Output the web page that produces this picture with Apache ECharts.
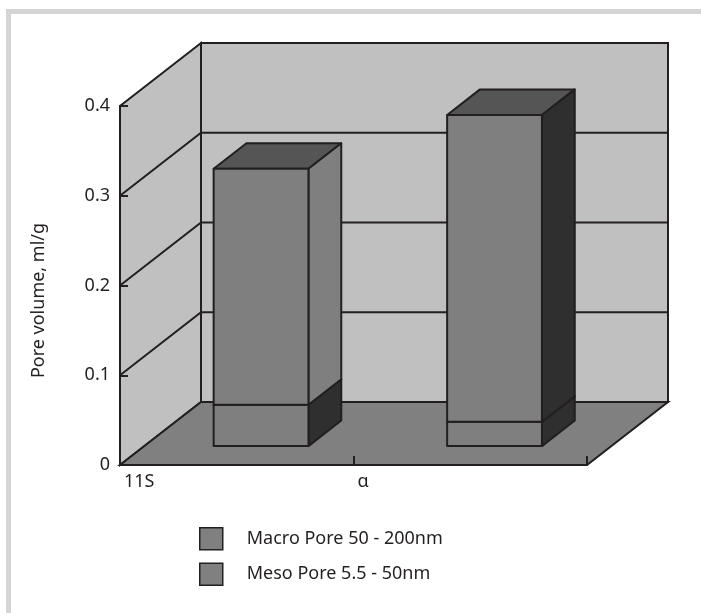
<!DOCTYPE html>
<html>
<head>
<meta charset="utf-8">
<script src="https://cdn.jsdelivr.net/npm/echarts@6/dist/echarts.min.js"></script>
<style>
html, body { margin: 0; padding: 0; background: #fff; }
#chart { width: 701px; height: 613px; }
</style>
</head>
<body>
<div id="chart"></div>
<script>
// data
var categories = ['11S', 'α'];
var mesoPore = [0.046, 0.027];   // lower part of each column
var macroPore = [0.263, 0.342];  // upper part of each column
var yTicks = [0, 0.1, 0.2, 0.3, 0.4];
var seriesNames = ['Macro Pore 50 - 200nm', 'Meso Pore 5.5 - 50nm'];

var DX = 81, DY = -63;      // depth of the 3d box in px
var BAR_W = 0.406;          // column width, part of a category band
var Z0 = 0.30, Z1 = 0.705;  // where the column sits in depth (0 front, 1 back)
var lineColor = '#231f20';
var font = 'Noto Sans';
var fs = 18;

function shift(p, f) {
	return [p[0] + DX * f, p[1] + DY * f];
}

// walls, floor and grid lines of the box
function renderBox(params, api) {
	var n = categories.length;
	var yMax = yTicks[yTicks.length - 1];
	var f00 = api.coord([0, 0]);
	var f0m = api.coord([0, yMax]);
	var fn0 = api.coord([n, 0]);
	var b00 = shift(f00, 1), b0m = shift(f0m, 1), bn0 = shift(fn0, 1);
	var bnm = shift(api.coord([n, yMax]), 1);
	var children = [];
	children.push({ type: 'polygon', shape: { points: [b00, bn0, bnm, b0m] },
		style: { fill: '#c0c0c0', stroke: lineColor, lineWidth: 2 } });
	children.push({ type: 'polygon', shape: { points: [f00, f0m, b0m, b00] },
		style: { fill: '#c0c0c0', stroke: lineColor, lineWidth: 2 } });
	children.push({ type: 'polygon', shape: { points: [f00, fn0, bn0, b00] },
		style: { fill: '#808080', stroke: lineColor, lineWidth: 2 } });
	yTicks.forEach(function(v) {
		if (v <= 0 || v >= yMax) return;
		var a = api.coord([0, v]);
		var c = shift(api.coord([n, v]), 1);
		children.push({ type: 'polyline', shape: { points: [a, shift(a, 1), c] },
			style: { stroke: lineColor, lineWidth: 2, fill: null } });
	});
	return { type: 'group', children: children };
}

function makeBar(name, lows, highs, sideColors) {
	var data = categories.map(function(c, i) {
		return [i, lows[i], lows[i] + highs[i]];
	});
	return {
		name: name,
		type: 'custom',
		z: 3,
		itemStyle: { color: '#808080', borderColor: lineColor, borderWidth: 1.5 },
		data: data,
		renderItem: function(params, api) {
			var i = api.value(0), lo = api.value(1), hi = api.value(2);
			var half = BAR_W / 2;
			var d = Z1 - Z0;
			var bl = shift(api.coord([i + 0.5 - half, lo]), Z0);
			var br = shift(api.coord([i + 0.5 + half, lo]), Z0);
			var tl = shift(api.coord([i + 0.5 - half, hi]), Z0);
			var tr = shift(api.coord([i + 0.5 + half, hi]), Z0);
			var st = { stroke: lineColor, lineWidth: 2, lineJoin: 'round' };
			return {
				type: 'group',
				children: [{
					type: 'polygon', shape: { points: [tl, tr, shift(tr, d), shift(tl, d)] },
					style: Object.assign({ fill: '#555555' }, st)
				}, {
					type: 'polygon', shape: { points: [br, shift(br, d), shift(tr, d), tr] },
					style: Object.assign({ fill: sideColors[i] }, st)
				}, {
					type: 'polygon', shape: { points: [bl, br, tr, tl] },
					style: Object.assign({ fill: '#7f7f7f' }, st)
				}]
			};
		}
	};
}

var option = {
	backgroundColor: '#fff',
	animation: false,
	textStyle: { fontFamily: font },
	graphic: [{
		type: 'polyline',
		shape: { points: [[8.5, 613], [8.5, 11.5], [701, 11.5]] },
		style: { stroke: '#d5d5d5', lineWidth: 5, fill: null }
	}],
	grid: {
		left: 120,
		top: 106,
		width: 467,
		height: 359,
		outerBoundsMode: 'none'
	},
	legend: {
		orient: 'vertical',
		left: 194,
		top: 522,
		itemWidth: 23,
		itemHeight: 22,
		itemGap: 12,
		icon: 'rect',
		data: seriesNames,
		itemStyle: { color: '#808080', borderColor: lineColor, borderWidth: 1.5 },
		textStyle: { fontSize: fs, lineHeight: 22, color: lineColor, fontFamily: font, padding: [0, 0, 0, 19] }
	},
	xAxis: {
		type: 'value',
		min: 0,
		max: categories.length,
		interval: 1,
		z: 10,
		splitLine: { show: false },
		axisLine: { show: true, lineStyle: { color: lineColor, width: 2 } },
		axisTick: { show: true, inside: true, length: 9, lineStyle: { color: lineColor, width: 2 } },
		axisLabel: {
			align: 'left',
			margin: 8,
			fontSize: fs,
			color: lineColor,
			padding: [0, 0, 0, 4],
			formatter: function(v) { return categories[v] || ''; }
		}
	},
	yAxis: {
		type: 'value',
		min: yTicks[0],
		max: yTicks[yTicks.length - 1],
		interval: 0.1,
		z: 10,
		name: 'Pore volume, ml/g',
		nameLocation: 'middle',
		nameGap: 72,
		nameTextStyle: { fontSize: fs, color: lineColor, padding: [0, 30, 0, 0] },
		splitLine: { show: false },
		axisLine: { show: true, lineStyle: { color: lineColor, width: 2 } },
		axisTick: { show: true, inside: true, length: 8, lineStyle: { color: lineColor, width: 2 } },
		axisLabel: { margin: 10, fontSize: fs, color: lineColor }
	},
	series: [{
		type: 'custom',
		z: 1,
		silent: true,
		data: [[0]],
		renderItem: renderBox
	},
		makeBar(seriesNames[1], [0, 0], mesoPore, ['#2f2f2f', '#2f2f2f']),
		makeBar(seriesNames[0], mesoPore, macroPore, ['#7f7f7f', '#2f2f2f'])
	]
};

var chart = echarts.init(document.getElementById('chart'));
chart.setOption(option);
</script>
</body>
</html>
